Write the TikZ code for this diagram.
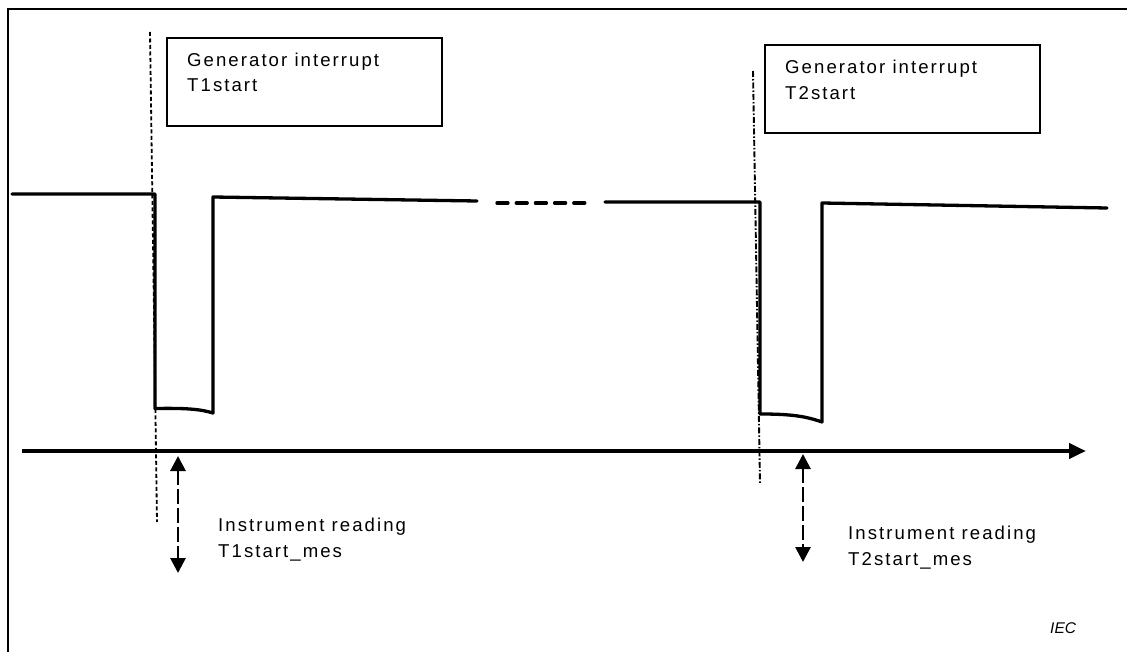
\documentclass[tikz,border=0pt]{standalone}
\usepackage{fontspec}
\setmainfont{Liberation Sans}
\newfontfamily\labfont[LetterSpace=11]{Liberation Sans}
\usetikzlibrary{arrows.meta}
\tikzset{
  frame/.style={line width=2.4pt},
  signal/.style={line width=3.3pt, line join=round, line cap=round},
  box/.style={draw, line width=2pt, rectangle, inner sep=0pt, anchor=north west},
  lab/.style={font=\labfont\fontsize{18.6}{25.5}\selectfont, align=left, inner sep=0pt, anchor=base west},
  axis/.style={line width=4.6pt, -{Triangle[length=17pt,width=15pt]}},
  reading/.style={line width=2.8pt, dash pattern=on 15pt off 4pt, {Triangle[length=15pt,width=15pt]}-{Triangle[length=15pt,width=15pt]}},
  mark1/.style={line width=1.8pt, dash pattern=on 4pt off 2.5pt},
  mark2/.style={line width=1.9pt, dash pattern=on 6pt off 2pt on 1.5pt off 2pt},
}
\begin{document}
\begin{tikzpicture}[x=1pt,y=-1pt]
\useasboundingbox (0,0) rectangle (1127,652);
% frame (top and left edges)
\coordinate (fa) at (8,652);
\coordinate (fb) at (8,9);
\coordinate (fc) at (1127,9);
\draw[frame] (fa) -- (fb) -- (fc);

% boxes
\node[box, minimum width=275pt, minimum height=88pt] (box1) at (166,37) {};
\node[box, minimum width=275pt, minimum height=88pt] (box2) at (764,44) {};
\node[lab] (gen1) at (187,91.7) {Generator interrupt\\T1start};
\node[lab] (gen2) at (785,99.3) {Generator interrupt\\T2start};

% marker lines
\coordinate (m1a) at (150,32);
\coordinate (m1b) at (157,522);
\coordinate (m2a) at (753,71);
\coordinate (m2b) at (760,483);
\draw[mark1] (m1a) -- (m1b);
\draw[mark2] (m2a) -- (m2b);

% signal
\coordinate (s0) at (12,194);
\coordinate (s1) at (155,194);
\coordinate (s2) at (155,408.5);
\coordinate (s3) at (213,413);
\coordinate (s4) at (213,197);
\coordinate (s5) at (477,201);
\coordinate (d0) at (497,203);
\coordinate (d1) at (590,203);
\coordinate (t0) at (605,202);
\coordinate (t1) at (760,202);
\coordinate (t2) at (760,414);
\coordinate (t3) at (822,422);
\coordinate (t4) at (822,203);
\coordinate (t5) at (1107,208);
\draw[signal] (s0) -- (s1) -- (s2) .. controls (185,408) and (200,409) .. (s3) -- (s4) -- (s5);
\draw[signal, dash pattern=on 11pt off 8.2pt] (d0) -- (d1);
\draw[signal] (t0) -- (t1) -- (t2) .. controls (790,414) and (805,416) .. (t3) -- (t4) -- (t5);

% time axis
\coordinate (ax0) at (22,451);
\coordinate (ax1) at (1086,451);
\draw[axis] (ax0) -- (ax1);

% instrument readings
\coordinate (r1a) at (178,456);
\coordinate (r1b) at (178,573);
\coordinate (r2a) at (803,454);
\coordinate (r2b) at (803,562);
\draw[reading] (r1a) -- (r1b);
\draw[reading] (r2a) -- (r2b);
\node[lab] (inst1) at (218,557) {Instrument reading\\T1start\_mes};
\node[lab] (inst2) at (848,565) {Instrument reading\\T2start\_mes};

\node[font=\fontsize{15.5}{18}\selectfont\itshape, inner sep=0pt, anchor=base west] (iec) at (1050,633) {IEC};
\end{tikzpicture}
\end{document}
